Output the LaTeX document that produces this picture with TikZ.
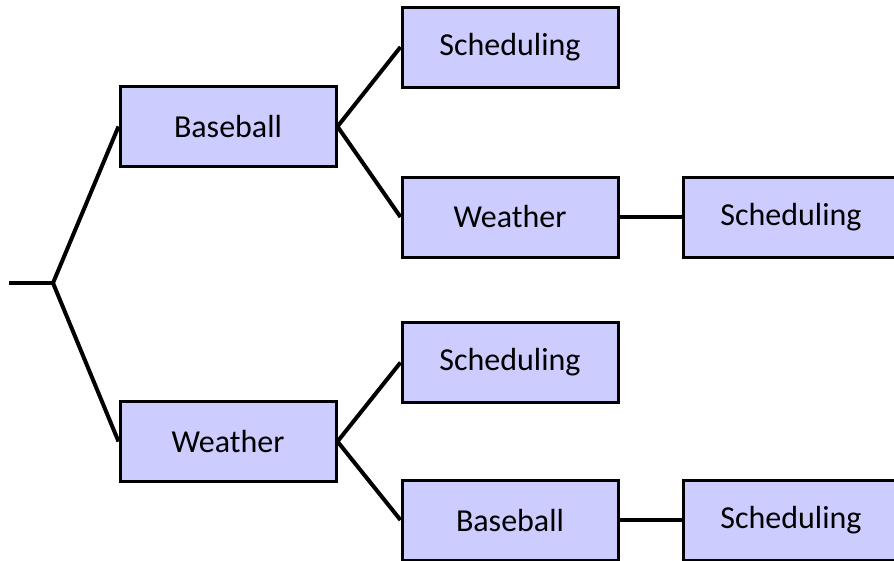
\documentclass[tikz,border=0pt]{standalone}
\usepackage{fontspec}
\setmainfont{Carlito}
\definecolor{boxfill}{HTML}{CCCCFF}
\begin{document}
\begin{tikzpicture}[x=1pt,y=-1pt,
  topic/.style={draw=black, line width=3pt, fill=boxfill, rectangle,
    minimum width=216pt, minimum height=80pt, inner sep=0pt,
    font=\fontsize{32}{38}\selectfont},
  link/.style={line width=4pt}]
  \useasboundingbox (0,0) rectangle (894,560);
  \clip (0,0) rectangle (894,560);
  % decision tree nodes
  \node[topic] (b1) at (228,126.5) {Baseball};
  \node[topic] (w1) at (228,441.5) {Weather};
  \node[topic] (s1) at (510,47) {Scheduling};
  \node[topic] (w2) at (510,217) {Weather};
  \node[topic] (s2) at (791,217) {Scheduling};
  \node[topic] (s3) at (510,362.5) {Scheduling};
  \node[topic] (b2) at (510,520) {Baseball};
  \node[topic] (s4) at (791,520) {Scheduling};
  % root stem and fork point
  \coordinate (r0) at (9,283);
  \coordinate (j) at (53,283);
  % branches
  \draw[link] (r0) -- (j);
  \draw[link] (j) -- (b1.west);
  \draw[link] (j) -- (w1.west);
  \draw[link] (b1.east) -- (s1.west);
  \draw[link] (b1.east) -- (w2.west);
  \draw[link] (w2.east) -- (s2.west);
  \draw[link] (w1.east) -- (s3.west);
  \draw[link] (w1.east) -- (b2.west);
  \draw[link] (b2.east) -- (s4.west);
\end{tikzpicture}
\end{document}
